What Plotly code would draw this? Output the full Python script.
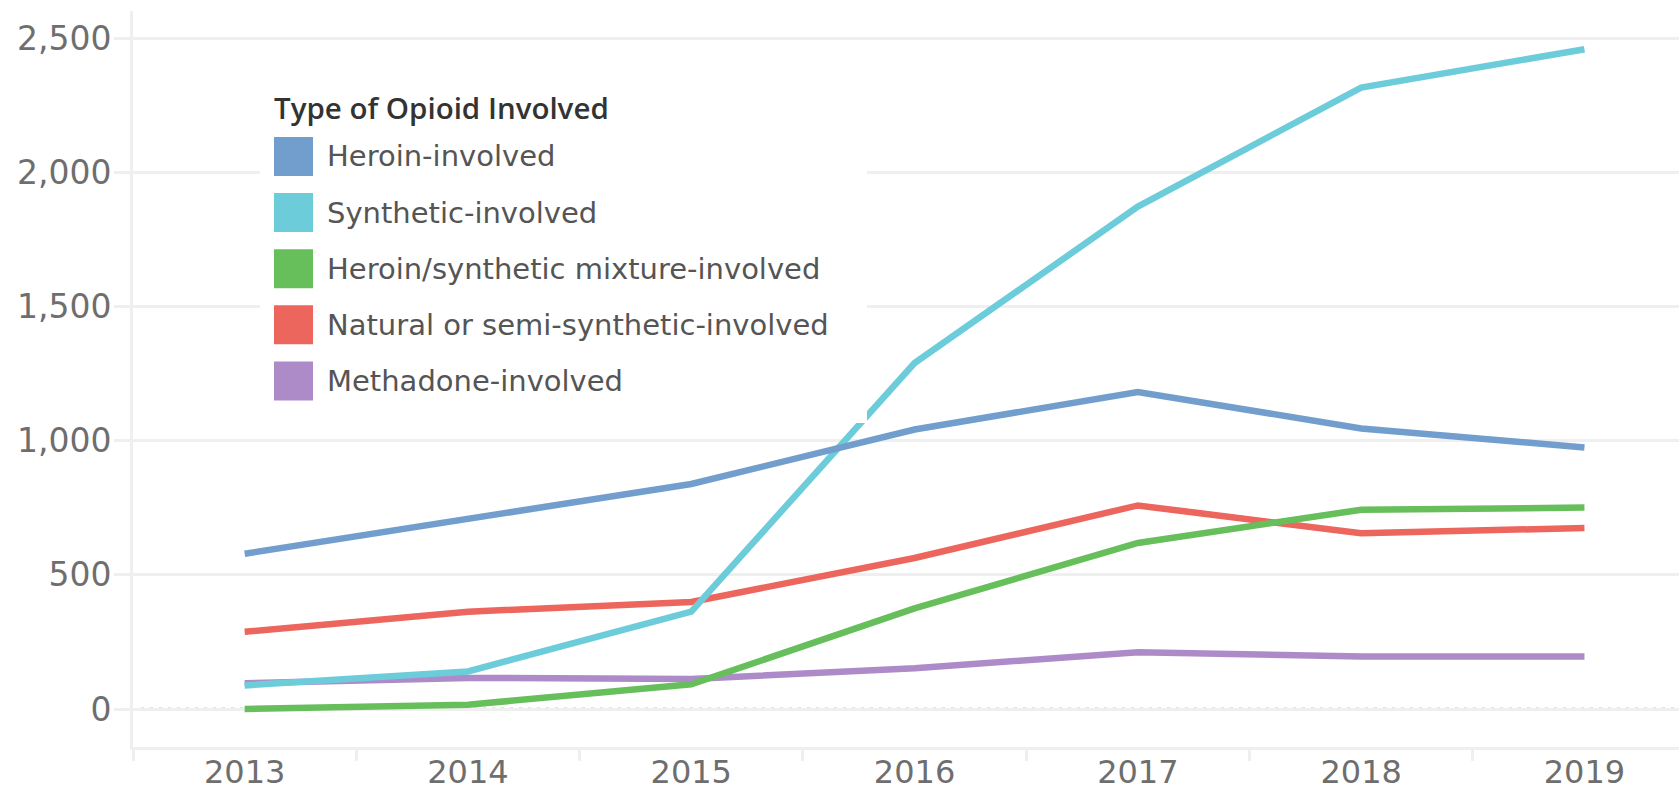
import plotly.graph_objects as go

# Annual opioid overdose deaths by type of opioid involved
years = ["2013", "2014", "2015", "2016", "2017", "2018", "2019"]

heroin = [579, 711, 839, 1042, 1182, 1046, 975]
synthetic = [88, 140, 363, 1290, 1873, 2317, 2460]
mixture = [0, 16, 92, 375, 619, 743, 751]
natural = [288, 363, 399, 563, 759, 655, 675]
methadone = [96, 116, 112, 152, 212, 196, 196]

series_names = [
    "Heroin-involved",
    "Synthetic-involved",
    "Heroin/synthetic mixture-involved",
    "Natural or semi-synthetic-involved",
    "Methadone-involved",
]
series_values = [heroin, synthetic, mixture, natural, methadone]
series_colors = ["#729ECE", "#6DCCDA", "#67BF5C", "#ED665D", "#AD8BC9"]

y_ticks = [0, 500, 1000, 1500, 2000, 2500]

W, H = 1679, 793
ML, MR, MT, MB = 133, 0, 11, 46
PW, PH = W - ML - MR, H - MT - MB


def px(x):
    return (x - ML) / PW


def py(y):
    return (H - MB - y) / PH


GRID = "#efefef"
Y_TICK_FONT = dict(family="DejaVu Sans", size=33, color="#6e6e6e")
X_TICK_FONT = dict(family="DejaVu Sans", size=32, color="#6e6e6e")

fig = go.Figure()

# first legend entry is drawn last so it sits on top
for name, vals, col in reversed(list(zip(series_names, series_values, series_colors))):
    fig.add_trace(go.Scatter(
        x=years, y=vals, name=name, mode="lines",
        line=dict(color=col, width=6.5),
        showlegend=False, hoverinfo="x+y+name",
    ))

shapes = [
    # hide the solid gridline at zero, replaced by a dotted rule
    dict(type="line", xref="paper", yref="y", x0=px(137), x1=1, y0=0, y1=0,
         line=dict(color="white", width=4), layer="between"),
    dict(type="line", xref="paper", yref="y", x0=px(141), x1=1, y0=0, y1=0,
         line=dict(color="#c4c4c4", width=3, dash="3px,6px"), layer="between"),
    # legend panel
    dict(type="rect", xref="paper", yref="paper",
         x0=px(260), x1=px(867), y0=py(423), y1=py(70),
         fillcolor="white", line=dict(width=0), layer="above"),
]

annotations = [
    dict(text="Type of Opioid Involved", xref="paper", yref="paper",
         x=px(272), y=py(108), xanchor="left", yanchor="middle", showarrow=False,
         font=dict(family="Open Sans", size=29.5, color="#333333", weight=600)),
]

row0, step, sw = 156.5, 56.1, 39
for i, (name, col) in enumerate(zip(series_names, series_colors)):
    cy = row0 + i * step
    shapes.append(dict(type="rect", xref="paper", yref="paper",
                       x0=px(274), x1=px(274 + sw), y0=py(cy + sw / 2), y1=py(cy - sw / 2),
                       fillcolor=col, line=dict(width=0), layer="above"))
    annotations.append(dict(text=name, xref="paper", yref="paper",
                            x=px(325), y=py(cy), xanchor="left", yanchor="middle",
                            showarrow=False,
                            font=dict(family="DejaVu Sans", size=29, color="#555555")))

fig.update_layout(
    width=W, height=H,
    margin=dict(l=ML, r=MR, t=MT, b=MB),
    paper_bgcolor="white", plot_bgcolor="white",
    showlegend=False,
    shapes=shapes,
    annotations=annotations,
    xaxis=dict(
        type="category", categoryorder="array", categoryarray=years,
        range=[-0.5, -0.5 + PW / 223.3],
        tickson="boundaries", ticks="outside", ticklen=11, tickwidth=3, tickcolor=GRID,
        showline=True, linecolor=GRID, linewidth=3,
        showgrid=False, zeroline=False, automargin=False,
        tickfont=X_TICK_FONT, ticklabelstandoff=-5,
    ),
    yaxis=dict(
        range=[-141.7, 2602.5],
        tickvals=y_ticks, tickformat=",d",
        ticks="outside", ticklen=16, tickwidth=3, tickcolor=GRID,
        showline=True, linecolor=GRID, linewidth=3,
        showgrid=True, gridcolor=GRID, gridwidth=3,
        zeroline=False, automargin=False,
        tickfont=Y_TICK_FONT, ticklabelstandoff=-4,
    ),
)

fig.write_html("out.html")
